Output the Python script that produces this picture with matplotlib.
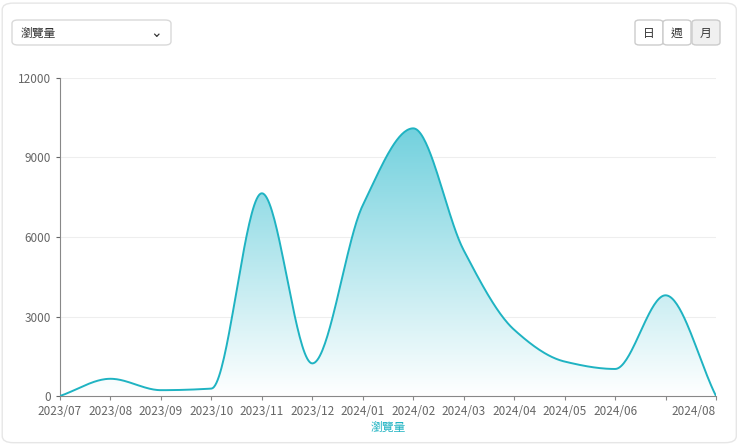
import numpy as np
import matplotlib
matplotlib.use("Agg")
import matplotlib.pyplot as plt
from matplotlib.patches import FancyBboxPatch, Polygon
from matplotlib.colors import LinearSegmentedColormap

plt.rcParams['font.family'] = ['Noto Sans CJK TC', 'DejaVu Sans']

months = ["2023/07","2023/08","2023/09","2023/10","2023/11","2023/12","2024/01",
          "2024/02","2024/03","2024/04","2024/05","2024/06","2024/07","2024/08"]
views = [0, 650, 220, 280, 7650, 1230, 7200, 10100, 5500, 2500, 1300, 1020, 3800, 0]
yticks = [0, 3000, 6000, 9000, 12000]
series_name = "瀏覽量"

def monotone(x, y, n=40):
    x = np.asarray(x, float); y = np.asarray(y, float)
    h = np.diff(x); d = np.diff(y) / h
    m = np.zeros_like(y)
    m[0], m[-1] = d[0], d[-1]
    for i in range(1, len(y) - 1):
        if d[i-1] * d[i] <= 0:
            m[i] = 0
        else:
            m[i] = 3 * (h[i-1] + h[i]) / ((2*h[i] + h[i-1]) / d[i-1] + (h[i] + 2*h[i-1]) / d[i])
    xs, ys = [], []
    for i in range(len(h)):
        t = np.linspace(0, 1, n, endpoint=False)
        h00 = 2*t**3 - 3*t**2 + 1; h10 = t**3 - 2*t**2 + t
        h01 = -2*t**3 + 3*t**2; h11 = t**3 - t**2
        xs.append(x[i] + t*h[i])
        ys.append(h00*y[i] + h10*h[i]*m[i] + h01*y[i+1] + h11*h[i]*m[i+1])
    xs.append([x[-1]]); ys.append([y[-1]])
    return np.concatenate(xs), np.concatenate(ys)

fig = plt.figure(figsize=(7.4, 4.44), dpi=100)
fig.patch.set_facecolor("white")
card = FancyBboxPatch((0.003, 0.003), 0.992, 0.99, boxstyle="round,pad=0,rounding_size=0.015",
                      transform=fig.transFigure, fc="none", ec="#e6e6e6", lw=1, zorder=-5)
fig.patches.append(card)
fig.patches.append(FancyBboxPatch((12/740, 1-45/444), 159/740, 25/444, boxstyle="round,pad=0,rounding_size=0.008",
                                  transform=fig.transFigure, fc="white", ec="#d9d9d9", lw=1))
fig.text(21/740, 1-33/444, series_name, fontsize=8.5, va="center", color="#333333")
fig.text(156/740, 1-33/444, "⌄", fontsize=10, va="center", ha="center", color="#333333")
bx = [635, 663, 692]
labels = ["日", "週", "月"]
for x0, lb in zip(bx, labels):
    w = 28
    fc = "#f0f0f0" if lb == "月" else "white"
    fig.patches.append(FancyBboxPatch((x0/740, 1-45/444), w/740, 25/444, boxstyle="round,pad=0,rounding_size=0.006",
                                      transform=fig.transFigure, fc=fc, ec="#cccccc", lw=1))
    fig.text((x0+w/2)/740, 1-33/444, lb, fontsize=8.5, ha="center", va="center", color="#333333")

ax = fig.add_axes([60/740, 1-396/444, 656/740, 318/444], zorder=2)
ax.patch.set_alpha(0)
x = np.arange(len(months))
xs, ys = monotone(x, views)
line_c = "#1fb3c2"
ax.plot(xs, ys, color=line_c, lw=1.4, zorder=3)
cmap = LinearSegmentedColormap.from_list("g", [(1, 1, 1, 1), (0.45, 0.82, 0.87, 1)])
im = ax.imshow(np.linspace(0, 1, 256).reshape(-1, 1)[::-1], cmap=cmap, aspect="auto",
               extent=[0, len(months)-1, 0, max(views)], zorder=1, vmin=0, vmax=1)
poly = Polygon(np.column_stack([np.r_[xs, xs[-1], xs[0]], np.r_[ys, 0, 0]]), closed=True,
               transform=ax.transData, fc="none", ec="none")
ax.add_patch(poly)
im.set_clip_path(poly)

ax.set_xlim(0, len(months)-1)
ax.set_ylim(0, 12000)
ax.set_yticks(yticks)
ax.set_yticklabels([str(v) for v in yticks])
ax.set_xticks(x)
ax.set_xticklabels([m if m != "2024/07" else "" for m in months])
tl = ax.get_xticklabels()
tl[-1].set_ha("right")
ax.tick_params(colors="#666666", labelsize=8.5, length=3)
ax.tick_params(axis="x", colors="#888888", labelcolor="#666666")
ax.grid(axis="y", color="#eeeeee", lw=0.8)
ax.set_axisbelow(True)
for s in ["top", "right"]:
    ax.spines[s].set_visible(False)
ax.spines["left"].set_color("#888888")
ax.spines["bottom"].set_color("#888888")
ax.set_xlabel(series_name, color=line_c, fontsize=8.5, labelpad=2)
fig.savefig("out.png", dpi=100)
